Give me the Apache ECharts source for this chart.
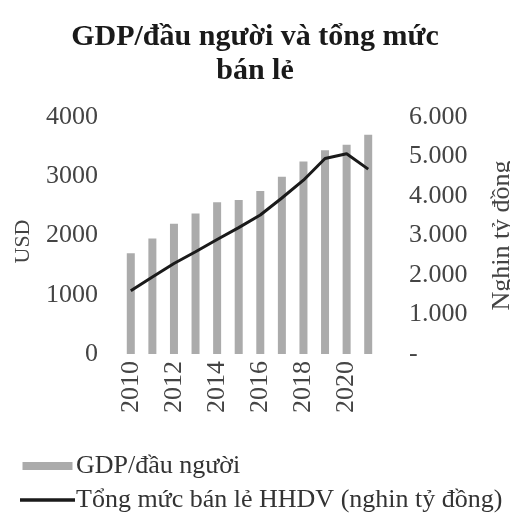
<!DOCTYPE html>
<html>
<head>
<meta charset="utf-8">
<script src="https://cdn.jsdelivr.net/npm/echarts@6/dist/echarts.min.js"></script>
<style>
  html, body { margin: 0; padding: 0; background: #fff; }
  #chart { width: 510px; height: 525px; }
</style>
</head>
<body>
<div id="chart"></div>
<script>
// Years on the category axis
const years = ['2010', '2011', '2012', '2013', '2014', '2015', '2016', '2017', '2018', '2019', '2020', '2021'];
// GDP per capita (USD), left axis
const gdpPerCapita = [1700, 1950, 2200, 2370, 2560, 2600, 2750, 2990, 3250, 3440, 3530, 3700];
// Total retail sales of goods and services (thousand billion VND), right axis
const retailSales = [1600, 1950, 2290, 2590, 2900, 3200, 3520, 3950, 4400, 4950, 5070, 4680];
// Right-axis tick labels use a dot as thousands separator, "-" for zero
const rightTickLabels = { 0: '-', 1000: '1.000', 2000: '2.000', 3000: '3.000', 4000: '4.000', 5000: '5.000', 6000: '6.000' };

const serif = '"Liberation Serif", "DejaVu Serif", serif';
const chart = echarts.init(document.getElementById('chart'));

chart.setOption({
  animation: false,
  backgroundColor: '#ffffff',
  title: {
    text: 'GDP/đầu người và tổng mức\nbán lẻ',
    left: 'center',
    top: 15,
    textStyle: { fontFamily: serif, fontSize: 30, fontWeight: 'bold', color: '#1a1a1a', lineHeight: 34 }
  },
  legend: {
    orient: 'vertical',
    left: 15,
    top: 448,
    itemGap: 8,
    itemWidth: 55,
    itemHeight: 8,
    textStyle: { fontFamily: serif, fontSize: 26, color: '#333', padding: [0, 0, 0, -4] },
    data: [
      { name: 'GDP/đầu người', icon: 'path://M3,0H53V8H3Z', itemStyle: { color: '#ababab' } },
      { name: 'Tổng mức bán lẻ HHDV (nghin tỷ đồng)', icon: 'path://M0,0H55V3.4H0Z' }
    ]
  },
  grid: { left: 120, right: 131, top: 117, bottom: 171, outerBoundsMode: 'none', containLabel: false },
  xAxis: {
    type: 'category',
    data: years,
    axisLine: { show: false },
    axisTick: { show: false },
    axisLabel: {
      interval: 1,
      rotate: 90,
      margin: 7,
      fontFamily: serif,
      fontSize: 26,
      color: '#444'
    }
  },
  yAxis: [
    {
      type: 'value',
      min: 0, max: 4000, interval: 1000,
      name: 'USD',
      nameLocation: 'middle',
      nameGap: 86,
      nameRotate: 90,
      nameTextStyle: { fontFamily: serif, fontSize: 22, color: '#444', padding: [0, 12, 0, 0] },
      splitLine: { show: false },
      axisLine: { show: false },
      axisTick: { show: false },
      axisLabel: { fontFamily: serif, fontSize: 26, color: '#444', margin: 22, formatter: v => String(v) }
    },
    {
      type: 'value',
      min: 0, max: 6000, interval: 1000,
      name: 'Nghin tỷ đồng',
      nameLocation: 'middle',
      nameGap: 110,
      nameRotate: 90,
      nameTextStyle: { fontFamily: serif, fontSize: 26, color: '#444' },
      splitLine: { show: false },
      axisLine: { show: false },
      axisTick: { show: false },
      axisLabel: {
        fontFamily: serif, fontSize: 26, color: '#444', margin: 30,
        formatter: v => rightTickLabels[v]
      }
    }
  ],
  series: [
    {
      name: 'GDP/đầu người',
      type: 'bar',
      yAxisIndex: 0,
      data: gdpPerCapita,
      barWidth: 8,
      itemStyle: { color: '#ababab' }
    },
    {
      name: 'Tổng mức bán lẻ HHDV (nghin tỷ đồng)',
      type: 'line',
      yAxisIndex: 1,
      data: retailSales,
      symbol: 'none',
      lineStyle: { color: '#1a1a1a', width: 3 },
      itemStyle: { color: '#1a1a1a' }
    }
  ]
});
</script>
</body>
</html>
